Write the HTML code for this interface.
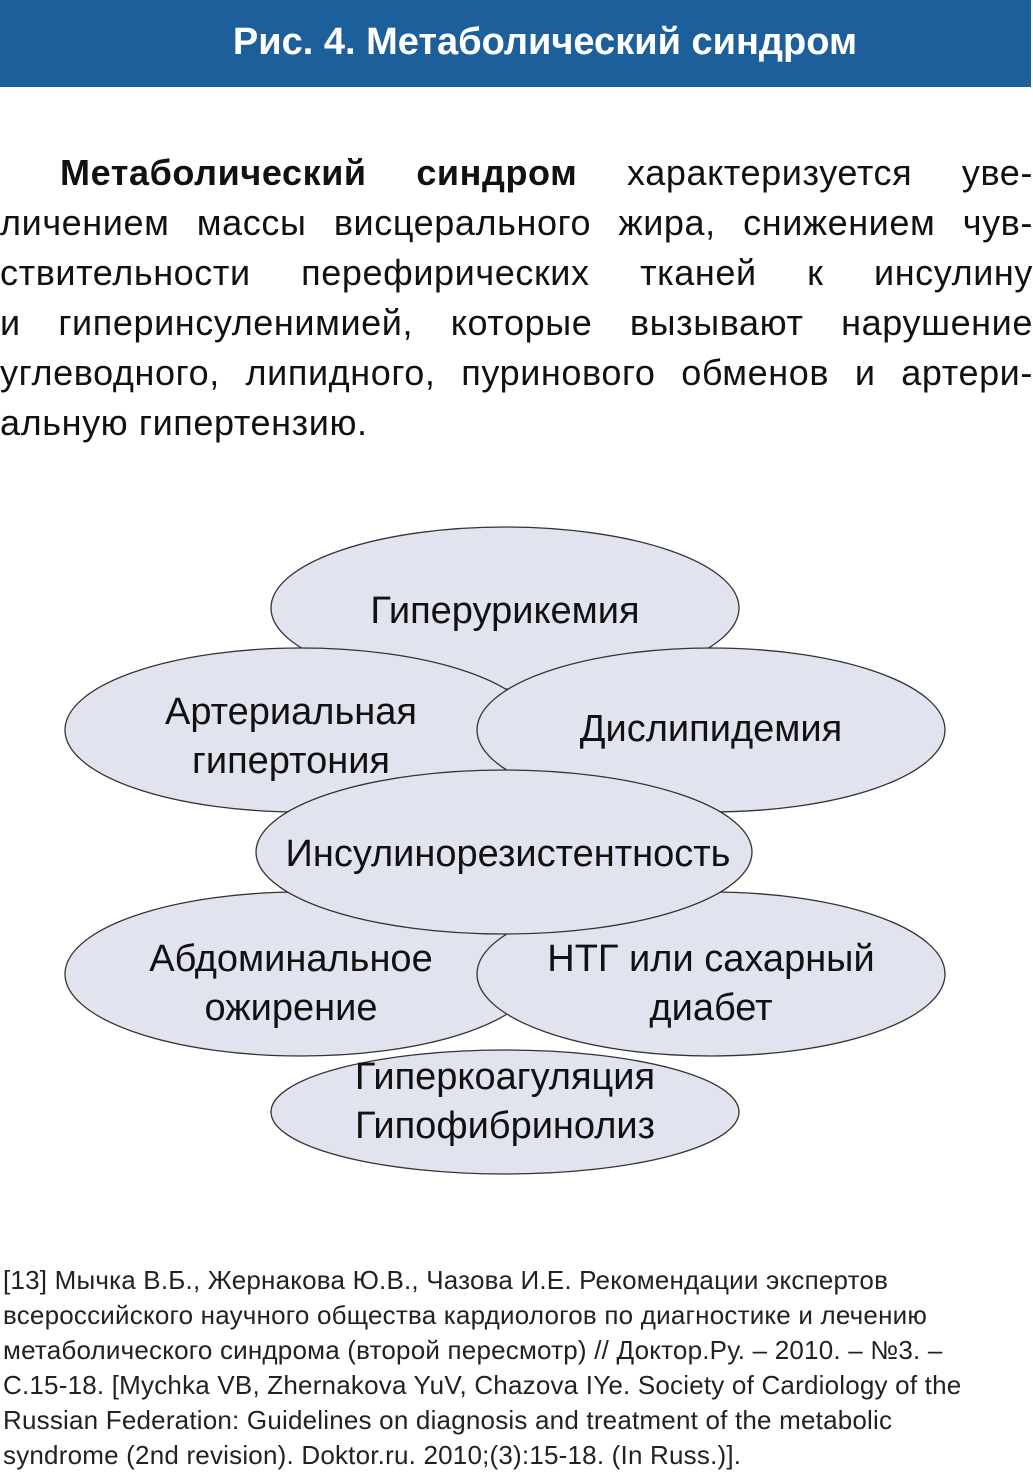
<!DOCTYPE html>
<html><head><meta charset="utf-8"><style>
html,body{margin:0;padding:0;background:#fff;}
body{width:1033px;height:1476px;position:relative;overflow:hidden;font-family:"Liberation Sans","DejaVu Sans",sans-serif;color:#111;}
.hdr{position:absolute;left:0;top:0;width:1031px;height:87px;background:#1d5f9b;}
.hdr span{position:absolute;left:0;width:1090px;text-align:center;top:21px;color:#fff;font-weight:bold;font-size:38px;}
.ln{position:absolute;left:0;width:1033px;font-size:36px;letter-spacing:0.6px;text-align:justify;text-align-last:justify;white-space:nowrap;}
.fn{position:absolute;left:3px;font-size:26px;letter-spacing:0.2px;white-space:nowrap;color:#222;}
</style></head><body>
<div class="hdr"><span>Рис. 4. Метаболический синдром</span></div>
<div class="ln" style="top:152px;left:60px;width:973px"><b>Метаболический синдром</b> характеризуется уве-</div>
<div class="ln" style="top:202px">личением массы висцерального жира, снижением чув-</div>
<div class="ln" style="top:252px">ствительности перефирических тканей к инсулину</div>
<div class="ln" style="top:302px">и гиперинсуленимией, которые вызывают нарушение</div>
<div class="ln" style="top:352px">углеводного, липидного, пуринового обменов и артери-</div>
<div class="ln" style="top:402px;text-align-last:left">альную гипертензию.</div>
<svg style="position:absolute;left:0;top:0" width="1033" height="1476" font-family="Liberation Sans, DejaVu Sans, sans-serif" font-size="38" fill="#111" text-anchor="middle">
<g fill="#e1e3ef" stroke="#333" stroke-width="1.3">
<ellipse cx="505" cy="608" rx="234" ry="81"/>
<ellipse cx="505" cy="1112" rx="234" ry="62"/>
<ellipse cx="301" cy="730" rx="236" ry="82"/>
<ellipse cx="301" cy="974" rx="236" ry="82"/>
<ellipse cx="711" cy="730" rx="234" ry="82"/>
<ellipse cx="711" cy="974" rx="234" ry="82"/>
<ellipse cx="504" cy="852" rx="248" ry="82"/>
</g>
<g stroke="none">
<text x="505" y="623">Гиперурикемия</text>
<text x="291" y="724">Артериальная</text>
<text x="291" y="773">гипертония</text>
<text x="711" y="741">Дислипидемия</text>
<text x="508" y="866">Инсулинорезистентность</text>
<text x="291" y="971">Абдоминальное</text>
<text x="291" y="1020">ожирение</text>
<text x="711" y="971">НТГ или сахарный</text>
<text x="711" y="1020">диабет</text>
<text x="505" y="1089">Гиперкоагуляция</text>
<text x="505" y="1138">Гипофибринолиз</text>
</g>
</svg>
<div class="fn" style="top:1265px">[13] Мычка В.Б., Жернакова Ю.В., Чазова И.Е. Рекомендации экспертов</div>
<div class="fn" style="top:1300px">всероссийского научного общества кардиологов по диагностике и лечению</div>
<div class="fn" style="top:1335px">метаболического синдрома (второй пересмотр) // Доктор.Ру. – 2010. – №3. –</div>
<div class="fn" style="top:1370px">С.15-18. [Mychka VB, Zhernakova YuV, Chazova IYe. Society of Cardiology of the</div>
<div class="fn" style="top:1405px">Russian Federation: Guidelines on diagnosis and treatment of the metabolic</div>
<div class="fn" style="top:1440px">syndrome (2nd revision). Doktor.ru. 2010;(3):15-18. (In Russ.)].</div>
</body></html>
